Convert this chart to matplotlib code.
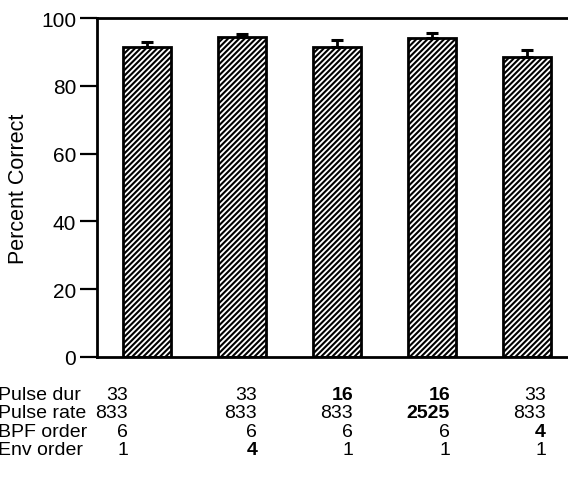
import matplotlib

matplotlib.use("Agg")
import matplotlib.pyplot as plt
from matplotlib.transforms import blended_transform_factory

# data
conditions = [0, 1, 2, 3, 4]
percent_correct = [91.4, 94.3, 91.4, 94.2, 88.5]
err_upper = [1.6, 0.9, 2.0, 1.5, 2.1]

row_labels = ["Pulse dur", "Pulse rate", "BPF order", "Env order"]
pulse_dur = ["33", "33", "16", "16", "33"]
pulse_rate = ["833", "833", "833", "2525", "833"]
bpf_order = ["6", "6", "6", "6", "4"]
env_order = ["1", "4", "1", "1", "1"]
# which entries are printed bold (the parameter changed in that condition)
bold_cells = [[2, 3], [3], [4], [1]]

plt.rcParams["font.family"] = ["Liberation Sans", "DejaVu Sans"]
plt.rcParams["hatch.linewidth"] = 1.5

fig = plt.figure(figsize=(5.68, 4.89), dpi=100)
ax = fig.add_axes([0.1708, 0.268, 0.845, 0.693])

ax.bar(
    conditions,
    percent_correct,
    width=0.5,
    color="white",
    edgecolor="black",
    linewidth=2,
    hatch="//////",
    zorder=2,
)
ax.errorbar(
    conditions,
    percent_correct,
    yerr=[[0] * len(err_upper), err_upper],
    fmt="none",
    ecolor="black",
    elinewidth=2,
    capsize=4.5,
    capthick=2.2,
    zorder=3,
)

ax.set_xlim(-0.526, 4.526)
ax.set_ylim(0, 100)
ax.set_yticks([0, 20, 40, 60, 80, 100])
ax.set_xticks([])
ax.tick_params(axis="y", direction="out", length=12, width=1.6, labelsize=15, pad=3)
for side in ("left", "bottom", "top", "right"):
    ax.spines[side].set_linewidth(2)
ax.set_ylabel("Percent Correct", fontsize=15.5, labelpad=9)

# parameter table under the bars
trans = blended_transform_factory(ax.transData, fig.transFigure)
col_anchor = [-0.2, 1.16, 2.17, 3.19, 4.2]
row_y = [0.192, 0.154, 0.116, 0.078]
table = [pulse_dur, pulse_rate, bpf_order, env_order]
for r, (label, values) in enumerate(zip(row_labels, table)):
    fig.text(-0.004, row_y[r], label, fontsize=14, ha="left", va="center")
    for c, val in enumerate(values):
        ax.text(
            col_anchor[c],
            row_y[r],
            val,
            transform=trans,
            fontsize=14,
            ha="right",
            va="center",
            fontweight="bold" if c in bold_cells[r] else "normal",
            clip_on=False,
        )

fig.savefig("out.png", dpi=100)
